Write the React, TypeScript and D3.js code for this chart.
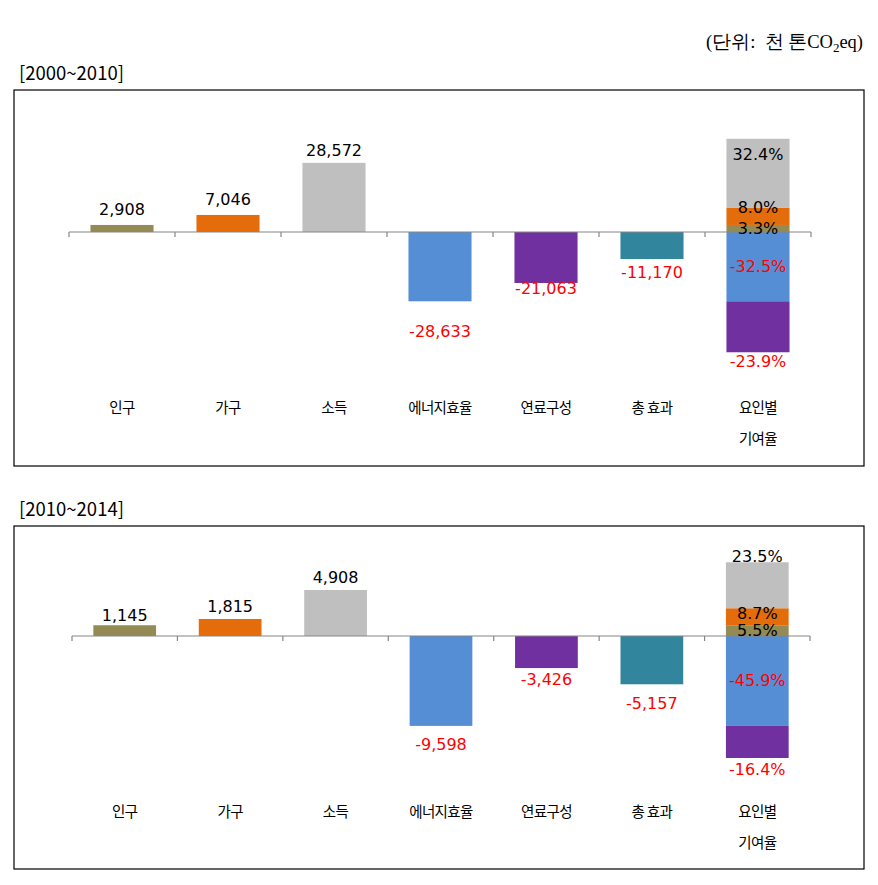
import React from "react";
import * as d3 from "d3";

// categories
const categories = ["인구", "가구", "소득", "에너지효율", "연료구성", "총 효과", "요인별\n기여율"];
const factorColors = ["#948A54", "#E46C0A", "#BFBFBF", "#558ED5", "#7030A0", "#31859C"];

// 2000~2010 values (천 톤CO2eq)
const values2000 = [2908, 7046, 28572, -28633, -21063, -11170];
const shares2000 = ["3.3%", "8.0%", "32.4%", "-32.5%", "-23.9%"];

// 2010~2014 values
const values2010 = [1145, 1815, 4908, -9598, -3426, -5157];
const shares2010 = ["5.5%", "8.7%", "23.5%", "-45.9%", "-16.4%"];

const NUM_FONT = "'DejaVu Sans', sans-serif";
const KR_FONT = "'Noto Sans CJK KR', sans-serif";
const fmt = (v: number) => d3.format(",")(v).replace("\u2212", "-");

type PanelCfg = {
  title: string;
  values: number[];
  shares: string[];
  box: [number, number, number, number];
  xRange: [number, number];
  yDomain: [number, number];
  yRange: [number, number];
  valueDy: number[];
  shareDy: number[];
  catY: number;
};

const panels: PanelCfg[] = [
  {
    title: "[2000~2010]",
    values: values2000,
    shares: shares2000,
    box: [14, 90, 850, 376],
    xRange: [69, 811],
    yDomain: [-50000, 50000],
    yRange: [353, 111],
    valueDy: [-15, -15, -12, 30, 6, 13],
    shareDy: [4, 0, 16, 0, 9],
    catY: 406,
  },
  {
    title: "[2010~2014]",
    values: values2010,
    shares: shares2010,
    box: [14, 526, 850, 343],
    xRange: [72, 810],
    yDomain: [-15000, 10000],
    yRange: [776.5, 542.3],
    valueDy: [-10, -12, -13, 19, 11, 19],
    shareDy: [5, 5, -6, 0, 12],
    catY: 810,
  },
];

function Panel({ cfg }: { cfg: PanelCfg }) {
  const x = d3.scaleBand<string>().domain(categories).range(cfg.xRange).padding(0);
  const y = d3.scaleLinear().domain(cfg.yDomain).range(cfg.yRange);
  const bw = x.bandwidth() * 0.595;
  const y0 = y(0);
  const [bx, by, bwid, bh] = cfg.box;

  // stacked contribution bar: positive factors up, negative factors down
  const factors = cfg.values.slice(0, 5);
  let pos = 0;
  let neg = 0;
  const stack = factors.map((v, i) => {
    const start = v >= 0 ? pos : neg;
    const end = start + v;
    if (v >= 0) pos = end;
    else neg = end;
    return { i, v, start, end };
  });
  const lastCat = categories[6];
  const sx = (x(lastCat) as number) + (x.bandwidth() - bw) / 2;
  const scx = sx + bw / 2;

  return (
    <g>
      <text x={bx + 5} y={by - 10} fontFamily={KR_FONT} fontSize={18.5} fill="#000">
        {cfg.title}
      </text>
      <rect x={bx} y={by} width={bwid} height={bh} fill="#fff" stroke="#000" strokeWidth={1.2} />
      {cfg.values.map((v, i) => {
        const cx = (x(categories[i]) as number) + x.bandwidth() / 2;
        const top = Math.min(y(v), y0);
        const h = Math.abs(y(v) - y0);
        const ly = y(v) + cfg.valueDy[i];
        return (
          <g key={i}>
            <rect x={cx - bw / 2} y={top} width={bw} height={h} fill={factorColors[i]} />
            <text
              x={cx}
              y={ly}
              textAnchor="middle"
              dominantBaseline="central"
              fontFamily={NUM_FONT}
              fontSize={16}
              fill={v >= 0 ? "#000" : "#FF0000"}
            >
              {fmt(v)}
            </text>
          </g>
        );
      })}
      {stack.map((s) => (
        <rect
          key={s.i}
          x={sx}
          y={Math.min(y(s.start), y(s.end))}
          width={bw}
          height={Math.abs(y(s.end) - y(s.start))}
          fill={factorColors[s.i]}
        />
      ))}
      <line x1={cfg.xRange[0]} x2={cfg.xRange[1]} y1={y0} y2={y0} stroke="#868686" strokeWidth={1.2} />
      {d3.range(categories.length + 1).map((k) => {
        const tx = cfg.xRange[0] + k * x.step();
        return <line key={k} x1={tx} x2={tx} y1={y0} y2={y0 + 5} stroke="#868686" strokeWidth={1.2} />;
      })}
      {stack.map((s) => {
        let ly: number;
        if (s.v < 0 && s.i === 4) ly = y(s.end) + cfg.shareDy[s.i];
        else if (s.v < 0) ly = (y(s.start) + y(s.end)) / 2 + cfg.shareDy[s.i];
        else ly = y(s.end) + cfg.shareDy[s.i];
        return (
          <text
            key={s.i}
            x={scx}
            y={ly}
            textAnchor="middle"
            dominantBaseline="central"
            fontFamily={NUM_FONT}
            fontSize={16}
            fill={s.v >= 0 ? "#000" : "#FF0000"}
          >
            {cfg.shares[s.i]}
          </text>
        );
      })}
      {categories.map((c, i) => {
        const cx = (x(c) as number) + x.bandwidth() / 2;
        return c.split("\n").map((line, j) => (
          <text
            key={i + "-" + j}
            x={cx}
            y={cfg.catY + j * 31}
            textAnchor="middle"
            dominantBaseline="central"
            fontFamily={KR_FONT}
            fontSize={14.5}
            letterSpacing={-0.6}
            fill="#000"
          >
            {line}
          </text>
        ));
      })}
    </g>
  );
}

export default function App() {
  return (
    <svg
      width={878}
      height={885}
      style={{ position: "absolute", left: 0, top: 0, background: "#fff" }}
    >
      <rect width={878} height={885} fill="#fff" />
      <text x={863} y={48} textAnchor="end" fontFamily="'Liberation Serif', serif" fontSize={18.5} fill="#000">
        (단위:&nbsp; 천 톤CO<tspan fontSize={13} dy={4}>2</tspan>
        <tspan dy={-4}>eq)</tspan>
      </text>
      {panels.map((p, i) => (
        <Panel key={i} cfg={p} />
      ))}
    </svg>
  );
}
